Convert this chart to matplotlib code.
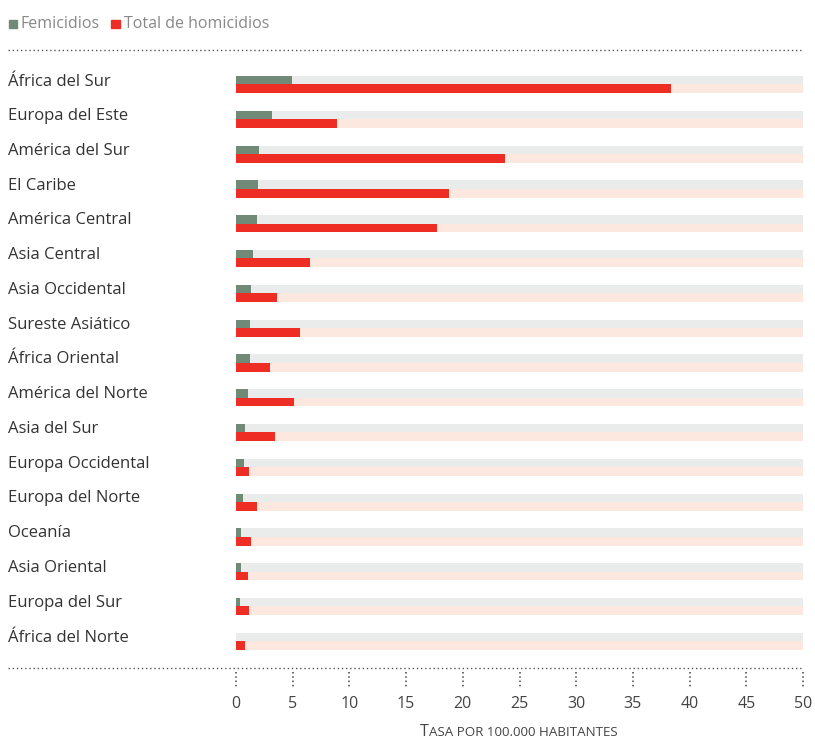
import matplotlib
matplotlib.use('Agg')
import numpy as np
from matplotlib import pyplot as plt
from matplotlib.lines import Line2D
from matplotlib.patches import Rectangle
import matplotlib.transforms as mtransforms

plt.rcParams['font.family'] = ['Open Sans', 'DejaVu Sans']

regions = ['África del Sur', 'Europa del Este', 'América del Sur', 'El Caribe',
           'América Central', 'Asia Central', 'Asia Occidental', 'Sureste Asiático',
           'África Oriental', 'América del Norte', 'Asia del Sur', 'Europa Occidental',
           'Europa del Norte', 'Oceanía', 'Asia Oriental', 'Europa del Sur', 'África del Norte']
femicidios = [4.9, 3.2, 2.0, 1.9, 1.85, 1.5, 1.3, 1.2, 1.2, 1.1, 0.8, 0.7, 0.6, 0.45, 0.45, 0.35, 0.0]
homicidios = [38.4, 8.9, 23.7, 18.8, 17.7, 6.5, 3.6, 5.6, 3.0, 5.1, 3.4, 1.15, 1.85, 1.3, 1.05, 1.15, 0.8]
x_ticks = [0, 5, 10, 15, 20, 25, 30, 35, 40, 45, 50]
x_max = 50

GREEN = '#718A78'
RED = '#EE2E24'
GREEN_BG = '#E9ECEA'
RED_BG = '#FCE8DE'

W, H = 815, 740
fig = plt.figure(figsize=(W / 100, H / 100), dpi=100, facecolor='white')
ax = fig.add_axes([236 / W, 1 - 668 / H, (803 - 236) / W, (668 - 50) / H])

y = np.arange(len(regions))
h_g, h_r = 0.24, 0.25

# background bars up to the axis maximum
ax.barh(y - h_g, [x_max] * len(y), height=h_g, align='edge', color=GREEN_BG, linewidth=0)
ax.barh(y, [x_max] * len(y), height=h_r, align='edge', color=RED_BG, linewidth=0)
# data bars
ax.barh(y - h_g, femicidios, height=h_g, align='edge', color=GREEN, linewidth=0)
ax.barh(y, homicidios, height=h_r, align='edge', color=RED, linewidth=0)

ax.set_xlim(0, x_max)
ax.set_ylim(16.77, -0.99)
for s in ax.spines.values():
    s.set_visible(False)
ax.set_yticks([])
ax.set_xticks(x_ticks)
ax.tick_params(axis='x', length=0, pad=20, labelsize=11.5, labelcolor='#444444')

# dotted tick marks below the axis
trans = mtransforms.blended_transform_factory(ax.transData, ax.transAxes)
for t in x_ticks:
    ax.plot([t, t], [-0.007, -0.030], transform=trans, clip_on=False,
            color='#444444', linestyle=(0, (1, 1.8)), linewidth=1.1)

# region labels
for i, name in enumerate(regions):
    fig.text(8 / W, 1 - (85.5 + i * 34.75) / H, name, ha='left', va='baseline',
             fontsize=12, color='#333333')

# dotted horizontal rules
for py in (50, 668):
    fig.add_artist(Line2D([8 / W, 803 / W], [1 - py / H, 1 - py / H],
                          color='#555555', linestyle=(0, (1, 2)), linewidth=1))

# legend
fig.add_artist(Rectangle((9 / W, 1 - 28 / H), 8 / W, 8 / H, color=GREEN, transform=fig.transFigure))
fig.text(21 / W, 1 - 28 / H, 'Femicidios', ha='left', va='baseline', fontsize=11.5, color='#888888')
fig.add_artist(Rectangle((111 / W, 1 - 28 / H), 9 / W, 8 / H, color=RED, transform=fig.transFigure))
fig.text(124 / W, 1 - 28 / H, 'Total de homicidios', ha='left', va='baseline', fontsize=11.5, color='#888888')

# x label in small caps
renderer = fig.canvas.get_renderer()
base_y = 1 - 736 / H
t1 = fig.text(0, base_y, 'T', fontsize=11.5, color='#444444', va='baseline')
t2 = fig.text(0, base_y, 'ASA POR 100.000 HABITANTES', fontsize=9.6, color='#444444', va='baseline')
w1 = t1.get_window_extent(renderer).width
w2 = t2.get_window_extent(renderer).width
x0 = 519 - (w1 + w2) / 2
t1.set_position((x0 / W, base_y))
t2.set_position(((x0 + w1) / W, base_y))

fig.savefig('out.png', dpi=100, facecolor='white')
